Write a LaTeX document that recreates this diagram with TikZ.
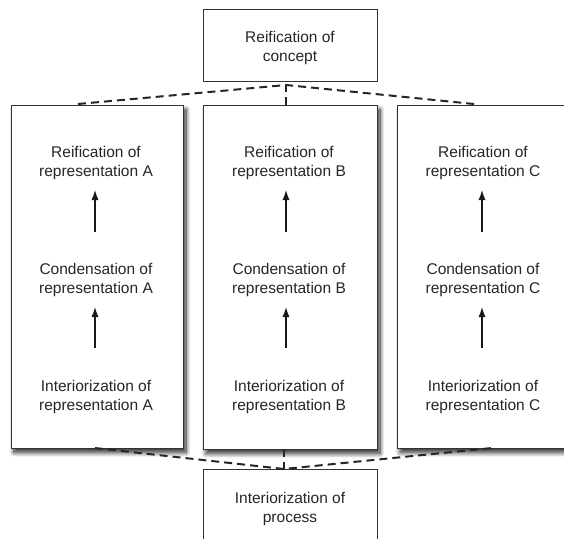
\documentclass[tikz,border=0pt]{standalone}
\usepackage{fontspec}
\setmainfont{Liberation Sans}
\usetikzlibrary{arrows.meta,shadows.blur}
\begin{document}
\begin{tikzpicture}[x=1pt,y=-1pt,
  lbl/.style={align=center,font=\fontsize{15.5}{19}\selectfont,text=black!85},
  frame/.style={draw=black!80,line width=1pt,fill=white},
  shadowed/.style={frame,blur shadow={shadow xshift=2.5pt,shadow yshift=-4pt,shadow blur radius=4.5pt,shadow blur steps=12,shadow opacity=85}},
  uparrow/.style={-{Latex[length=10pt,width=7pt]},line width=1.1pt,black!90},
  dashlink/.style={dashed,dash pattern=on 8pt off 5pt,line width=2pt,black!85}]
\useasboundingbox (0,0) rectangle (564,538);
% outer boxes
\node[frame,minimum width=174pt,minimum height=72pt,anchor=north west] (top) at (203,9) {};
\node[frame,minimum width=174pt,minimum height=72pt,anchor=north west] (bot) at (203,469) {};
\node[lbl] (topT) at (290,48) {Reification of\\concept};
\node[lbl] (botT) at (290,509) {Interiorization of\\process};
% columns
\node[shadowed,minimum width=172pt,minimum height=343pt,anchor=north west] (A) at (11,105) {};
\node[shadowed,minimum width=174pt,minimum height=344pt,anchor=north west] (B) at (203,105) {};
\node[shadowed,minimum width=174pt,minimum height=343pt,anchor=north west] (C) at (397,105) {};
% texts
\node[lbl] (A3) at (96,163) {Reification of\\representation A};
\node[lbl] (A2) at (96,280) {Condensation of\\representation A};
\node[lbl] (A1) at (96,397) {Interiorization of\\representation A};
\node[lbl] (B3) at (289,163) {Reification of\\representation B};
\node[lbl] (B2) at (289,280) {Condensation of\\representation B};
\node[lbl] (B1) at (289,397) {Interiorization of\\representation B};
\node[lbl] (C3) at (483,163) {Reification of\\representation C};
\node[lbl] (C2) at (483,280) {Condensation of\\representation C};
\node[lbl] (C1) at (483,397) {Interiorization of\\representation C};
% arrows
\coordinate (a1s) at (95,348); \coordinate (a1e) at (95,307);
\coordinate (a2s) at (95,232); \coordinate (a2e) at (95,190);
\coordinate (b1s) at (286,348); \coordinate (b1e) at (286,307);
\coordinate (b2s) at (286,232); \coordinate (b2e) at (286,190);
\coordinate (c1s) at (482,348); \coordinate (c1e) at (482,307);
\coordinate (c2s) at (482,232); \coordinate (c2e) at (482,190);
\draw[uparrow] (a1s) -- (a1e);
\draw[uparrow] (a2s) -- (a2e);
\draw[uparrow] (b1s) -- (b1e);
\draw[uparrow] (b2s) -- (b2e);
\draw[uparrow] (c1s) -- (c1e);
\draw[uparrow] (c2s) -- (c2e);
% dashed links to concept
\coordinate (tj) at (286,85);
\coordinate (tl) at (78,104);
\coordinate (tr) at (474,104);
\coordinate (tb) at (286,105);
\draw[dashlink] (tl) -- (tj) -- (tr);
\draw[dashlink] (tb) -- (tj);
% dashed links to process
\coordinate (bj) at (284,469);
\coordinate (bl) at (95,448);
\coordinate (br) at (492,448);
\coordinate (bb) at (284,449);
\draw[dashlink] (bl) -- (bj) -- (br);
\draw[dashlink] (bb) -- (bj);
\end{tikzpicture}
\end{document}
